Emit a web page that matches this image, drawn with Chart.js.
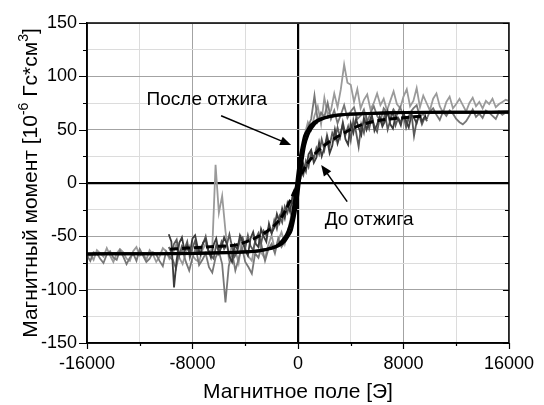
<!DOCTYPE html>
<html>
<head>
<meta charset="utf-8">
<script src="https://cdn.jsdelivr.net/npm/chart.js@4/dist/chart.umd.min.js"></script>
<style>
  html, body { margin: 0; padding: 0; background: #fff; }
  canvas { display: block; }
</style>
</head>
<body>
<canvas id="chart" width="544" height="405"></canvas>
<script>
// измерения после отжига: поле от -16000 с шагом 250 Э
const fieldStartAfter = -16000;
const fieldStepAfter = 250;
const momentAfter1 = [
  -70, -67, -72, -63, -66, -69, -61, -68, -74, -66,
  -62, -65, -71, -73, -64, -60, -68, -66, -72, -63,
  -67, -74, -69, -61, -64, -71, -66, -58, -70, -76,
  -65, -59, -68, -72, -74, -63, -57, -66, -61, 17,
  -28, -12, -45, -70, -58, -63, -75, -52, -61, -69,
  -73, -55, -50, -66, -71, -58, -49, -63, -54, -46,
  -57, -44, -30, -12, 5, 28, 45, 57, 50, 63,
  72, 55, 80, 64, 68, 84, 71, 88, 111, 94,
  92, 76, 88, 70, 78, 83, 69, 75, 84, 73,
  79, 68, 77, 86, 74, 70, 81, 88, 72, 77,
  89, 71, 82, 75, 68, 79, 84, 72, 66, 76,
  81, 70, 74, 79, 73, 67, 75, 80, 72, 76,
  70, 77, 74, 79, 71, 74, 76, 78, 77
];
const momentAfter2 = [
  -68, -73, -65, -66, -71, -75, -67, -64, -70, -72,
  -63, -69, -76, -70, -66, -73, -62, -68, -74, -71,
  -65, -67, -73, -78, -64, -69, -72, -80, -66, -63,
  -74, -82, -70, -61, -77, -72, -66, -79, -84, -70,
  -64, -76, -112, -78, -65, -82, -71, -60, -74, -79,
  -85, -66, -70, -59, -73, -62, -57, -66, -52, -60,
  -55, -47, -36, -20, -2, 20, 38, 52, 60, 82,
  58, 66, 62, 75, 60, 68, 56, 64, 73, 61,
  67, 71, 60, 63, 69, 57, 66, 72, 63, 58,
  70, 66, 61, 69, 64, 71, 62, 57, 66, 70,
  73, 62, 65, 60, 67, 70, 64, 59, 67, 63,
  68, 65, 60, 57, 55, 58, 63, 69, 62, 65,
  61, 68, 66, 63, 60, 67, 64, 66, 65
];

// измерения до отжига: поле от -9800 с шагом 200 Э
const fieldStartBefore = -9800;
const fieldStepBefore = 200;
const momentBefore1 = [
  -48, -55, -98, -72, -56, -51, -64, -59, -66, -52,
  -49, -61, -67, -56, -53, -63, -70, -58, -52, -66,
  -60, -51, -57, -69, -74, -58, -62, -49, -55, -63,
  -68, -52, -46, -57, -60, -43, -50, -55, -38, -47,
  -42, -29, -37, -24, -33, -19, -27, -11, -14, 2,
  5, 18, 11, 27, 31, 19, 24, 38, 25, 33,
  42, 28, 35, 50, 37, 45, 55, 41, 36, 56,
  47, 60, 52, 45, 61, 50, 57, 64, 49, 55,
  62, 53, 58, 67, 55, 51, 63, 60, 54, 66,
  58, 52, 64, 61, 56, 65, 58, 62, 60
];
const momentBefore2 = [
  -60, -65, -57, -53, -68, -59, -62, -55, -70, -61,
  -54, -66, -61, -57, -50, -63, -68, -71, -58, -64,
  -55, -62, -58, -48, -60, -69, -64, -54, -51, -61,
  -49, -59, -63, -52, -47, -57, -45, -49, -41, -47,
  -35, -43, -31, -37, -22, -28, -17, -19, -5, -7,
  11, 7, 21, 15, 29, 23, 33, 27, 41, 31,
  45, 35, 47, 41, 52, 43, 57, 45, 53, 40,
  59, 48, 34, 55, 47, 61, 51, 62, 53, 48,
  61, 55, 65, 50, 59, 67, 54, 61, 57, 64,
  52, 61, 66, 44, 58, 63, 55, 61, 58
];

// аппроксимации (сплошные - после отжига, пунктир - до отжига)
const fitFieldAfter = [-16000, -12000, -8000, -6000, -4000, -3000, -2000, -1500, -1000, -750, -500, -300, -150,
  0, 150, 300, 500, 750, 1000, 1500, 2000, 3000, 4000, 6000, 8000, 12000, 16000];
const fitAfterDown = [-66.5, -66.3, -66, -65.5, -64.5, -63.5, -60.8, -58, -51, -45, -35, -20, -6,
  10, 23, 33, 44, 50, 54.5, 59, 61.3, 63.7, 64.6, 65.5, 66, 66.3, 66.5];
const fitAfterUp = [-66.5, -66.3, -66, -65.5, -64.6, -63.7, -61.3, -59, -54.5, -50, -44, -33, -23,
  -10, 6, 20, 35, 45, 51, 58, 60.8, 63.5, 64.5, 65.5, 66, 66.3, 66.5];
const fitFieldBefore = [-9700, -8400, -7000, -6000, -4700, -3500, -2200, -1500, -1000, -500,
  0, 500, 1000, 1500, 2200, 3500, 4700, 6000, 8000, 9700];
const fitBefore = [-62, -61, -60, -59.3, -58, -53, -44, -36, -27, -14,
  0, 14, 23, 30, 37, 47, 54, 58.3, 61.2, 63];

const FONT = '"Liberation Sans", Arial, sans-serif';

function stepPoints(start, step, values) {
  return values.map((v, i) => ({ x: start + i * step, y: v }));
}
function pairPoints(xs, ys) {
  return xs.map((x, i) => ({ x: x, y: ys[i] }));
}

const notes = [
  { text: 'После отжига', at: [-6910, 78.5], from: [-5830, 63], to: [-520, 35.6] },
  { text: 'До отжига', at: [5390, -34.7], from: [3730, -17.5], to: [1760, 16.9] }
];

function arrow(ctx, x1, y1, x2, y2) {
  const ang = Math.atan2(y2 - y1, x2 - x1);
  const len = 11, half = 4.5;
  ctx.beginPath();
  ctx.moveTo(x1, y1);
  ctx.lineTo(x2 - Math.cos(ang) * len * 0.8, y2 - Math.sin(ang) * len * 0.8);
  ctx.stroke();
  ctx.beginPath();
  ctx.moveTo(x2, y2);
  ctx.lineTo(x2 - Math.cos(ang) * len - Math.sin(ang) * half, y2 - Math.sin(ang) * len + Math.cos(ang) * half);
  ctx.lineTo(x2 - Math.cos(ang) * len + Math.sin(ang) * half, y2 - Math.sin(ang) * len - Math.cos(ang) * half);
  ctx.closePath();
  ctx.fill();
}

const decor = {
  id: 'decor',
  afterDraw(chart) {
    const { ctx, chartArea: a, scales: { x, y } } = chart;
    ctx.save();
    ctx.strokeStyle = '#000';
    ctx.fillStyle = '#000';

    // рамка
    ctx.lineWidth = 1.5;
    ctx.strokeRect(a.left, a.top, a.right - a.left, a.bottom - a.top);

    // засечки
    ctx.lineWidth = 1.2;
    ctx.beginPath();
    for (let v = -150; v <= 150; v += 25) {
      const py = Math.round(y.getPixelForValue(v)) + 0.5;
      const major = v % 50 === 0;
      ctx.moveTo(a.left, py); ctx.lineTo(a.left - (major ? 8 : 4), py);
      ctx.moveTo(a.right, py); ctx.lineTo(a.right - (major ? 6 : 4), py);
    }
    for (let v = -16000; v <= 16000; v += 4000) {
      const px = Math.round(x.getPixelForValue(v)) + 0.5;
      const major = v % 8000 === 0;
      ctx.moveTo(px, a.bottom); ctx.lineTo(px, a.bottom + (major ? 6 : 3));
    }
    ctx.stroke();

    // подписи осей
    ctx.font = '21px ' + FONT;
    ctx.textAlign = 'center';
    ctx.textBaseline = 'alphabetic';
    ctx.fillText('Магнитное поле [Э]', (a.left + a.right) / 2, 398);

    const parts = [
      ['Магнитный момент [10', false],
      ['-6', true],
      [' Гс*см', false],
      ['3', true],
      [']', false]
    ];
    const big = '21px ' + FONT, small = '14px ' + FONT;
    let total = 0;
    parts.forEach(p => { ctx.font = p[1] ? small : big; total += ctx.measureText(p[0]).width; });
    ctx.save();
    ctx.translate(36.5, (a.top + a.bottom) / 2);
    ctx.rotate(-Math.PI / 2);
    ctx.textAlign = 'left';
    let cx = -total / 2;
    parts.forEach(p => {
      ctx.font = p[1] ? small : big;
      ctx.fillText(p[0], cx, p[1] ? -9 : 0);
      cx += ctx.measureText(p[0]).width;
    });
    ctx.restore();

    // надписи со стрелками
    ctx.font = '19px ' + FONT;
    ctx.textAlign = 'center';
    ctx.textBaseline = 'middle';
    ctx.lineWidth = 1.5;
    notes.forEach(n => {
      ctx.fillText(n.text, x.getPixelForValue(n.at[0]), y.getPixelForValue(n.at[1]));
      arrow(ctx,
        x.getPixelForValue(n.from[0]), y.getPixelForValue(n.from[1]),
        x.getPixelForValue(n.to[0]), y.getPixelForValue(n.to[1]));
    });
    ctx.restore();
  }
};

function gridColor(c, majorStep) {
  if (!c.tick) return 'rgba(0,0,0,0)';
  const v = c.tick.value;
  if (v === 0) return '#000';
  return v % majorStep === 0 ? '#a3a3a3' : '#dcdcdc';
}

const noisy = (data, color, order) => ({
  data: data, borderColor: color, borderWidth: 1.8, pointRadius: 0, tension: 0, order: order
});
const fit = (data, dash) => ({
  data: data, borderColor: '#000', borderWidth: 3, pointRadius: 0,
  cubicInterpolationMode: 'monotone', borderDash: dash || [], order: 0
});

new Chart(document.getElementById('chart'), {
  type: 'line',
  data: {
    datasets: [
      fit(pairPoints(fitFieldAfter, fitAfterDown)),
      fit(pairPoints(fitFieldAfter, fitAfterUp)),
      fit(pairPoints(fitFieldBefore, fitBefore), [8, 4]),
      noisy(stepPoints(fieldStartBefore, fieldStepBefore, momentBefore1), '#3c3c3c', 1),
      noisy(stepPoints(fieldStartBefore, fieldStepBefore, momentBefore2), '#5a5a5a', 2),
      noisy(stepPoints(fieldStartAfter, fieldStepAfter, momentAfter2), '#777777', 3),
      noisy(stepPoints(fieldStartAfter, fieldStepAfter, momentAfter1), '#9a9a9a', 4)
    ]
  },
  options: {
    responsive: false,
    animation: false,
    events: [],
    layout: { padding: { left: 0, top: 23, right: 25, bottom: 0 } },
    plugins: { legend: { display: false }, tooltip: { enabled: false } },
    scales: {
      x: {
        type: 'linear',
        min: -16000, max: 16000,
        afterFit: s => { s.height = 62; },
        border: { color: '#000', width: 1.5 },
        grid: {
          drawTicks: false,
          color: c => gridColor(c, 8000),
          lineWidth: c => (c.tick && c.tick.value === 0 ? 2.2 : 1)
        },
        ticks: {
          stepSize: 4000, autoSkip: false, maxRotation: 0, padding: 10,
          color: '#000', font: { family: FONT, size: 18 },
          callback: v => (v % 8000 === 0 ? String(v) : '')
        }
      },
      y: {
        min: -150, max: 150,
        afterFit: s => { s.width = 87; },
        border: { color: '#000', width: 1.5 },
        grid: {
          drawTicks: false,
          color: c => gridColor(c, 50),
          lineWidth: c => (c.tick && c.tick.value === 0 ? 2.2 : 1)
        },
        ticks: {
          stepSize: 25, autoSkip: false, padding: 10,
          color: '#000', font: { family: FONT, size: 18 },
          callback: v => (v % 50 === 0 ? String(v) : '')
        }
      }
    }
  },
  plugins: [decor]
});
</script>
</body>
</html>
